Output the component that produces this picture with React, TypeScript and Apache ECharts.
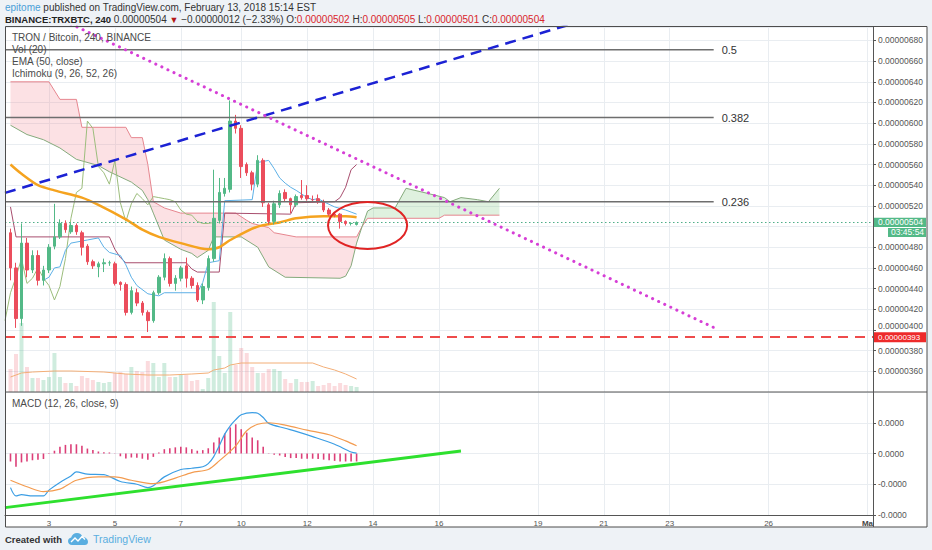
import React, { useEffect, useRef } from 'react';
import * as echarts from 'echarts';

const FONT = 'Liberation Sans, Arial, Helvetica, sans-serif';

// ---- time axis (4h bar slots) ----
const SLOT_COUNT = 159;
const FIRST_BAR = 1;
const dayTickIndex = [8, 20, 32, 43, 55, 67, 79, 97, 109, 121, 139, 157];
const dayTickLabel = ['3', '5', '7', '10', '12', '14', '16', '19', '21', '23', '26', 'Ma'];

// ---- candles (price in satoshi, 1e-8 BTC) ----
const candleOpen = [
  494, 460, 411, 484, 458, 472, 448, 458, 481, 490,
  503, 495, 501, 494, 481, 466, 461, 464, 465, 464,
  446, 444, 417, 436, 426, 417, 409, 436, 451, 469,
  445, 450, 462, 450, 443, 429, 441, 469, 506, 532,
  536, 602, 595, 560, 552, 541, 564, 521, 505, 521,
  533, 527, 521, 530, 530, 526, 527, 524, 516, 512,
  512, 505, 503, 502,
];
const candleClose = [
  460, 411, 484, 458, 472, 448, 458, 480, 490, 503,
  497, 501, 495, 480, 466, 462, 464, 465, 465, 445,
  444, 417, 438, 426, 417, 409, 436, 451, 469, 445,
  450, 460, 450, 443, 429, 442, 469, 508, 533, 537,
  602, 595, 558, 552, 541, 564, 523, 505, 522, 532,
  527, 521, 529, 528, 527, 526, 524, 516, 512, 511,
  505, 503, 503, 504,
];
const candleLow = [
  448, 402, 404, 451, 455, 443, 443, 455, 478, 488,
  494, 493, 492, 472, 463, 459, 451, 456, 462, 443,
  438, 414, 415, 423, 414, 398, 407, 434, 448, 442,
  438, 447, 441, 440, 427, 425, 438, 466, 503, 529,
  533, 590, 547, 549, 535, 538, 519, 502, 502, 518,
  524, 513, 519, 526, 525, 523, 522, 514, 510, 509,
  498, 501, 501, 501,
];
const candleHigh = [
  498, 465, 503, 489, 477, 477, 462, 483, 522, 507,
  506, 504, 503, 496, 483, 468, 466, 469, 467, 466,
  447, 446, 442, 440, 428, 419, 438, 453, 474, 471,
  453, 462, 470, 452, 446, 445, 472, 555, 547, 547,
  622, 608, 598, 562, 554, 569, 566, 523, 525, 535,
  536, 528, 531, 545, 540, 530, 531, 526, 518, 514,
  513, 506, 504, 505,
];
const volume = [
  23, 38, 69, 25, 14, 14, 12, 15, 39, 15,
  9, 9, 6, 16, 14, 12, 10, 9, 10, 19,
  20, 18, 25, 21, 20, 31, 29, 15, 29, 15,
  15, 17, 17, 11, 12, 3, 14, 90, 36, 19,
  80, 27, 44, 39, 25, 19, 19, 23, 23, 21,
  13, 9, 13, 10, 10, 11, 6, 7, 9, 6,
  9, 7, 6, 5,
];
const volumeMA: [number, number][] = [
  [1, 15], [2, 17], [3, 19], [5, 20], [9, 21], [12, 21], [18, 20], [22, 18], [26, 17], [30, 17],
  [34, 18], [37, 19], [38, 22], [40, 24], [41, 27], [43, 29], [56, 29], [57, 27], [58, 25], [60, 22],
  [62, 18], [64, 13],
];

// ---- indicators: [bar slot, value] ----
const ema50: [number, number][] = [
  [1, 560], [3, 551], [6, 540], [9, 535], [14, 528], [17, 521], [22, 507], [25, 497], [28, 490], [32, 484],
  [37, 478], [39, 480], [41, 487], [46, 500], [50, 504], [53, 508], [58, 510], [62, 510], [64, 509],
];
const tenkan: [number, number][] = [
  [7, 448], [8, 451], [9, 460], [10, 461], [11, 477], [12, 484], [15, 487], [17, 489], [18, 480], [19, 475],
  [21, 472], [22, 463], [23, 451], [24, 443], [26, 435], [28, 433], [29, 436], [35, 436], [36, 446], [37, 465],
  [39, 467], [40, 525], [45, 526], [46, 562], [48, 564], [49, 556], [50, 547], [51, 542], [52, 538], [53, 535],
  [55, 528], [56, 526], [57, 527], [58, 524], [60, 519], [62, 516], [63, 514], [64, 512],
];
const kijun: [number, number][] = [
  [1, 519], [2, 490], [19, 490], [20, 478], [21, 470], [22, 465], [33, 465], [34, 459], [35, 456], [39, 456],
  [40, 513], [52, 512], [53, 523], [60, 524], [61, 528], [62, 538], [63, 555], [64, 560],
];
const spanA: [number, number][] = [
  [1, 598], [4, 589], [7, 584], [10, 576], [13, 565], [17, 559], [19, 553], [23, 543], [25, 535], [26, 526],
  [27, 513], [29, 487], [32, 478], [34, 474], [35, 470], [37, 477], [38, 490], [43, 490], [46, 480], [48, 461],
  [51, 451], [61, 450], [62, 452], [63, 462], [64, 484], [65, 500], [66, 515], [67, 518], [71, 518], [73, 537],
  [77, 532], [80, 528], [81, 524], [83, 528], [86, 526], [88, 524], [90, 537],
];
const spanB: [number, number][] = [
  [1, 640], [8, 640], [10, 623], [13, 623], [14, 596], [22, 596], [23, 586], [25, 586], [26, 560], [27, 524],
  [29, 518], [32, 513], [42, 513], [44, 506], [45, 503], [48, 499], [49, 494], [53, 490], [64, 490], [65, 500],
  [66, 508], [79, 508], [80, 511], [90, 511],
];
const CLOUD_CROSS = 65;
const CHIKOU_SHIFT = 26;

// ---- MACD (1e-8 units) ----
const macdHist = [
  -2.6, -4.3, -2.9, -2.6, -2.2, -2.0, -1.8, -0.2, 0.9, 2.2,
  2.8, 3.0, 3.0, 2.5, 1.6, 1.1, 0.65, 0.43, 0.33, 0.1,
  -0.9, -1.6, -1.3, -1.4, -1.7, -2.0, -1.1, 0.3, 1.4, 1.7,
  2.0, 2.2, 2.0, 1.4, 0.9, 1.1, 1.7, 3.6, 5.2, 6.5,
  8.5, 9.5, 7.9, 6.8, 5.2, 4.3, 2.2, 0.1, -0.4, -0.65,
  -1.1, -1.5, -1.5, -1.7, -1.7, -1.7, -1.8, -2.0, -2.2, -2.4,
  -2.6, -2.6, -2.6, -2.6,
];
const macdLine: [number, number][] = [
  [1, -11.1], [2, -13.8], [3, -13.4], [5, -13.8], [7, -13.8], [8, -11.9], [10, -9.4], [12, -7.3], [13, -6.0], [15, -6.7],
  [18, -6.9], [21, -9.1], [24, -10.0], [26, -11.1], [27, -10.5], [29, -7.6], [32, -5.2], [34, -4.8], [36, -4.3], [37, -3.3],
  [38, -1.0], [39, 2.5], [40, 6.3], [41, 9.0], [42, 11.0], [43, 12.6], [45, 13.3], [46, 13.1], [47, 11.7], [48, 9.8],
  [51, 8.2], [53, 7.2], [56, 5.5], [60, 3.0], [63, 0.5], [64, 0.1],
];
const signalLine: [number, number][] = [
  [1, -8.7], [4, -10.8], [7, -12.4], [10, -11.6], [13, -8.7], [17, -7.6], [20, -7.6], [23, -8.7], [27, -9.8], [31, -8.0],
  [34, -6.2], [37, -5.2], [39, -2.4], [42, 2.5], [44, 7.4], [46, 9.5], [48, 10.0], [51, 9.2], [55, 7.6], [59, 6.1],
  [62, 4.1], [64, 2.5],
];

// ---- drawings ----
const blueTrend: [number, number][] = [[0, 532.6], [110, 706.8]];
const magentaTrend: [number, number][] = [[12, 695.9], [130, 399.9]];
const macdTrend: [number, number][] = [[0, -17.6], [83, 0.8]];
const fibLevels = [671, 605.4, 524];
const fibLabels = ['0.5', '0.382', '0.236'];
const FIB_END = 129;
const currentPrice = 504;
const alertPrice = 393;
const hiddenPriceTick = 500; // covered by the last-price tag
const liftedPriceTick = 400; // partly covered by the alert tag
const countdown = '03:45:54';
const ellipseCenter = [66, 501];
const ellipseRadius = [7.2, 22.7];

const UP = '#53b987';
const DOWN = '#eb4d5c';
const GRID_COLOR = '#e9edf1';

const LOGO_PATH =
  'M4 12C1.8 12 0 10.3 0 8.2C0 6.3 1.4 4.8 3.2 4.5C3.8 1.9 6.2 0 9 0C11.6 0 13.8 1.6 14.6 3.9C17.6 3.9 20 6.1 20 8.9C20 10.6 18.6 12 16.9 12Z';
echarts.graphic.registerShape('tvLogo', echarts.graphic.extendPath(LOGO_PATH, {}));

const fmtPrice = (v: number) => (v / 1e8).toFixed(8);

function buildOption() {
  const slots = Array.from({ length: SLOT_COUNT }, (_, i) => String(i));
  const tickMap = new Map<number, string>(dayTickIndex.map((i, k) => [i, dayTickLabel[k]]));
  const isTick = (i: number) => tickMap.has(i);

  const candleData = slots.map((_, i) => {
    const k = i - FIRST_BAR;
    return k >= 0 && k < candleOpen.length ? [candleOpen[k], candleClose[k], candleLow[k], candleHigh[k]] : '-';
  });
  const volData = volume.map((v, k) => ({
    value: [k + FIRST_BAR, v],
    itemStyle: { color: candleClose[k] >= candleOpen[k] ? 'rgba(83,185,135,0.28)' : 'rgba(235,77,92,0.2)' },
  }));
  const histData = macdHist.map((v, k) => [k + FIRST_BAR, v]);
  const chikou: [number, number][] = [];
  for (let j = 0; j + CHIKOU_SHIFT - FIRST_BAR < candleClose.length; j++) {
    chikou.push([j, candleClose[j + CHIKOU_SHIFT - FIRST_BAR]]);
  }

  const thin = (data: any, color: string, extra: any = {}) => ({
    type: 'line',
    xAxisIndex: 0,
    yAxisIndex: 0,
    data,
    symbol: 'none',
    silent: true,
    lineStyle: { color, width: 1 },
    z: 3,
    ...extra,
  });

  const fibSeries = fibLevels.map((lvl, k) => ({
    type: 'line',
    xAxisIndex: 0,
    yAxisIndex: 0,
    data: [[0, lvl], [FIB_END, lvl]],
    symbol: 'none',
    silent: true,
    lineStyle: { color: '#6e6e6e', width: 1.5 },
    z: 6,
    endLabel: { show: true, formatter: () => fibLabels[k], color: '#333', fontSize: 11, distance: 8, fontFamily: FONT },
  }));

  const xBase = (gridIndex: number, labels: boolean) => ({
    type: 'category',
    gridIndex,
    data: slots,
    boundaryGap: false,
    axisLine: { show: labels, onZero: false, lineStyle: { color: '#555' } },
    axisTick: { show: false },
    axisLabel: {
      show: labels,
      interval: (i: number) => isTick(i),
      formatter: (v: string) => {
        const t = tickMap.get(Number(v)) || '';
        return t === 'Ma' ? '{m|Ma}' : t;
      },
      rich: { m: { fontWeight: 'bold', fontSize: 8, color: '#444', fontFamily: FONT } },
      fontSize: 8,
      color: '#555',
      margin: 4,
    },
    splitLine: { show: true, interval: (i: number) => isTick(i), lineStyle: { color: GRID_COLOR } },
  });

  return {
    animation: false,
    backgroundColor: '#eef2f6',
    textStyle: { fontFamily: FONT },
    grid: [
      { left: 5, top: 27, width: 868, height: 365 },
      { left: 5, top: 392, width: 868, height: 123 },
    ],
    xAxis: [xBase(0, false), xBase(1, true)],
    yAxis: [
      {
        type: 'value',
        gridIndex: 0,
        position: 'right',
        min: 340,
        max: 693,
        interval: 20,
        axisLine: { show: false },
        axisTick: { show: true, length: 3, lineStyle: { color: '#555' } },
        axisLabel: {
          formatter: (v: number) =>
            v === hiddenPriceTick ? '' : v === liftedPriceTick ? '{u|' + fmtPrice(v) + '}' : fmtPrice(v),
          rich: { u: { fontSize: 8.5, color: '#555', padding: [0, 0, 7, 0], fontFamily: FONT } },
          fontSize: 8.5,
          color: '#555',
          margin: 5,
          showMinLabel: false,
          showMaxLabel: false,
        },
        splitLine: { lineStyle: { color: GRID_COLOR } },
      },
      { type: 'value', gridIndex: 0, min: 0, max: 365, show: false },
      {
        type: 'value',
        gridIndex: 1,
        position: 'right',
        min: -20,
        max: 20,
        interval: 10,
        axisLine: { show: false },
        axisTick: { show: true, length: 3, lineStyle: { color: '#555' } },
        axisLabel: { formatter: (v: number) => (v / 1e8).toFixed(4), fontSize: 8.5, color: '#555', margin: 5, showMaxLabel: false },
        splitLine: { lineStyle: { color: GRID_COLOR } },
      },
    ],
    series: [
      {
        type: 'custom',
        xAxisIndex: 0,
        yAxisIndex: 0,
        data: [[0, 500]],
        silent: true,
        clip: true,
        z: 1,
        renderItem: (_p: any, api: any) => {
          const pts = (arr: [number, number][]) => arr.map(([i, v]) => api.coord([i, v]));
          const pinkB = spanB.filter((p) => p[0] <= CLOUD_CROSS);
          const pinkA = spanA.filter((p) => p[0] <= CLOUD_CROSS);
          const greenA = spanA.filter((p) => p[0] >= CLOUD_CROSS);
          const greenB = spanB.filter((p) => p[0] >= CLOUD_CROSS);
          return {
            type: 'group',
            children: [
              { type: 'polygon', shape: { points: [...pts(pinkB), ...pts(pinkA).reverse()] }, style: { fill: 'rgba(240,120,130,0.22)' } },
              { type: 'polygon', shape: { points: [...pts(greenA), ...pts(greenB).reverse()] }, style: { fill: 'rgba(110,190,110,0.22)' } },
            ],
          };
        },
      },
      {
        type: 'bar',
        xAxisIndex: 0,
        yAxisIndex: 1,
        data: volData,
        barWidth: 4,
        silent: true,
        z: 1,
      },
      thin(volumeMA, '#f3ae77', { yAxisIndex: 1, z: 2 }),
      thin(spanB, '#e6868f'),
      thin(spanA, '#85aa7c'),
      thin(chikou, '#9cbd7c'),
      thin(kijun, '#a84e6e'),
      thin(tenkan, '#5db0e6'),
      thin(ema50, '#f5a31f', { lineStyle: { color: '#f5a31f', width: 2.5 }, smooth: 0.3, z: 4 }),
      {
        type: 'candlestick',
        xAxisIndex: 0,
        yAxisIndex: 0,
        data: candleData,
        barWidth: 3,
        silent: true,
        z: 5,
        itemStyle: { color: UP, color0: DOWN, borderColor: UP, borderColor0: DOWN, borderWidth: 1 },
        markLine: {
          silent: true,
          symbol: ['none', 'none'],
          label: { show: false },
          data: [
            { yAxis: alertPrice, lineStyle: { color: '#ee4b4b', type: [10, 7], width: 2 } },
            { yAxis: currentPrice, lineStyle: { color: '#4fae88', type: [1.5, 2.5], width: 1 } },
          ],
        },
      },
      thin(blueTrend, '#1c22d4', { lineStyle: { color: '#1c22d4', width: 2.5, type: [11, 7] }, z: 7 }),
      thin(magentaTrend, '#d63fd6', { lineStyle: { color: '#d63fd6', width: 3, type: [0.1, 6.6], cap: 'round' }, z: 7 }),
      ...fibSeries,
      {
        type: 'custom',
        xAxisIndex: 0,
        yAxisIndex: 0,
        data: [ellipseCenter],
        silent: true,
        z: 8,
        renderItem: (_p: any, api: any) => {
          const cx = api.value(0);
          const cy = api.value(1);
          const c = api.coord([cx, cy]);
          const step = api.coord([cx + 1, cy])[0] - c[0];
          const top = api.coord([cx, cy + ellipseRadius[1]]);
          return {
            type: 'ellipse',
            shape: { cx: c[0], cy: c[1], rx: step * ellipseRadius[0], ry: c[1] - top[1] },
            style: { fill: 'none', stroke: '#e02424', lineWidth: 2 },
          };
        },
      },
      {
        type: 'bar',
        xAxisIndex: 1,
        yAxisIndex: 2,
        data: histData,
        barWidth: 1.6,
        silent: true,
        itemStyle: { color: '#dc3f78' },
        z: 2,
      },
      {
        type: 'line',
        xAxisIndex: 1,
        yAxisIndex: 2,
        data: macdLine,
        symbol: 'none',
        smooth: 0.3,
        silent: true,
        lineStyle: { color: '#3c9ee4', width: 1.2 },
        z: 3,
      },
      {
        type: 'line',
        xAxisIndex: 1,
        yAxisIndex: 2,
        data: signalLine,
        symbol: 'none',
        smooth: 0.3,
        silent: true,
        lineStyle: { color: '#f39b4f', width: 1.2 },
        z: 3,
      },
      {
        type: 'line',
        xAxisIndex: 1,
        yAxisIndex: 2,
        data: macdTrend,
        symbol: 'none',
        silent: true,
        lineStyle: { color: '#2ee02e', width: 3 },
        z: 4,
      },
    ],
  };
}

function txt(x: number, y: number, text: string, extra: any = {}) {
  return {
    type: 'text',
    x,
    y,
    z: 120,
    silent: true,
    style: { text, fill: '#4a4a4a', fontSize: 10, fontFamily: FONT, verticalAlign: 'middle', align: 'left', ...extra },
  };
}

export default function App() {
  const ref = useRef<HTMLDivElement>(null);
  useEffect(() => {
    if (!ref.current) return;
    const chart = echarts.init(ref.current, undefined, { renderer: 'svg', width: 932, height: 550 });
    chart.setOption(buildOption() as any);
    const yCur = chart.convertToPixel({ yAxisIndex: 0 } as any, currentPrice) as unknown as number;
    const yAlert = chart.convertToPixel({ yAxisIndex: 0 } as any, alertPrice) as unknown as number;

    const rich1 = {
      a: { fill: '#4a9fd8', fontSize: 10, fontFamily: FONT },
      b: { fill: '#333', fontSize: 10, fontFamily: FONT },
    };
    const rich2 = {
      k: { fill: '#222', fontSize: 9.5, fontWeight: 'bold', fontFamily: FONT },
      n: { fill: '#333', fontSize: 10, fontFamily: FONT },
      r: { fill: '#b41818', fontSize: 9, fontFamily: FONT },
      v: { fill: '#d9262c', fontSize: 10, fontFamily: FONT },
    };
    const graphic: any[] = [
      { type: 'rect', z: -10, silent: true, shape: { x: 5, y: 27, width: 922, height: 500 }, style: { fill: '#ffffff' } },
      { type: 'rect', z: 100, silent: true, shape: { x: 5.5, y: 26.5, width: 921.5, height: 500.5 }, style: { fill: 'none', stroke: '#4d4d4d', lineWidth: 1 } },
      { type: 'line', z: 100, silent: true, shape: { x1: 5, y1: 392, x2: 927, y2: 392 }, style: { stroke: '#555', lineWidth: 1.2 } },
      { type: 'line', z: 100, silent: true, shape: { x1: 873.5, y1: 27, x2: 873.5, y2: 527 }, style: { stroke: '#555', lineWidth: 1 } },
      {
        type: 'text', x: 5, y: 7, z: 120, silent: true,
        style: { text: '{a|epitome}{b| published on TradingView.com, February 13, 2018 15:14 EST}', rich: rich1, verticalAlign: 'middle', align: 'left' },
      },
      {
        type: 'text', x: 5, y: 19.5, z: 120, silent: true,
        style: {
          text:
            '{k|BINANCE:TRXBTC, 240}{n| ' + fmtPrice(currentPrice) + ' }{r|▼}{n| −0.00000012 (−2.33%) O:}{v|0.00000502}{n| H:}{v|0.00000505}{n| L:}{v|0.00000501}{n| C:}{v|' +
            fmtPrice(currentPrice) + '}',
          rich: rich2, verticalAlign: 'middle', align: 'left',
        },
      },
      txt(12, 37, 'TRON / Bitcoin, 240, BINANCE'),
      txt(12, 49, 'Vol (20)'),
      txt(12, 61, 'EMA (50, close)'),
      txt(12, 73, 'Ichimoku (9, 26, 52, 26)'),
      txt(12, 403, 'MACD (12, 26, close, 9)'),
      { type: 'rect', z: 110, silent: true, shape: { x: 874, y: yCur - 4.7, width: 52, height: 9.4 }, style: { fill: UP } },
      txt(878, yCur, fmtPrice(currentPrice), { fill: '#fff', fontSize: 8.5 }),
      { type: 'rect', z: 110, silent: true, shape: { x: 888, y: yCur + 5.5, width: 38, height: 9 }, style: { fill: UP } },
      txt(891, yCur + 10, countdown, { fill: '#fff', fontSize: 8.5 }),
      { type: 'rect', z: 110, silent: true, shape: { x: 874, y: yAlert - 5, width: 52, height: 10 }, style: { fill: '#ee2a2a' } },
      txt(878, yAlert + 0.5, fmtPrice(alertPrice), { fill: '#fff', fontSize: 8 }),
      txt(5, 539, 'Created with', { fill: '#333', fontWeight: 'bold', fontSize: 9.5 }),
      { type: 'tvLogo', x: 68, y: 533, scaleX: 1, scaleY: 1, z: 120, silent: true, style: { fill: '#5aaee0' } },
      {
        type: 'polyline', z: 121, silent: true,
        shape: { points: [[71, 542], [75, 538], [78, 541], [82, 536.5], [85, 539.5]] },
        style: { stroke: '#ffffff', lineWidth: 1.4, fill: 'none' },
      },
      txt(93, 539, 'TradingView', { fill: '#5aaee0', fontSize: 10.5 }),
    ];
    chart.setOption({ graphic } as any);
    return () => chart.dispose();
  }, []);
  return (
    <div
      ref={ref}
      style={{ position: 'absolute', left: 0, top: 0, width: 932, height: 550 }}
    />
  );
}
